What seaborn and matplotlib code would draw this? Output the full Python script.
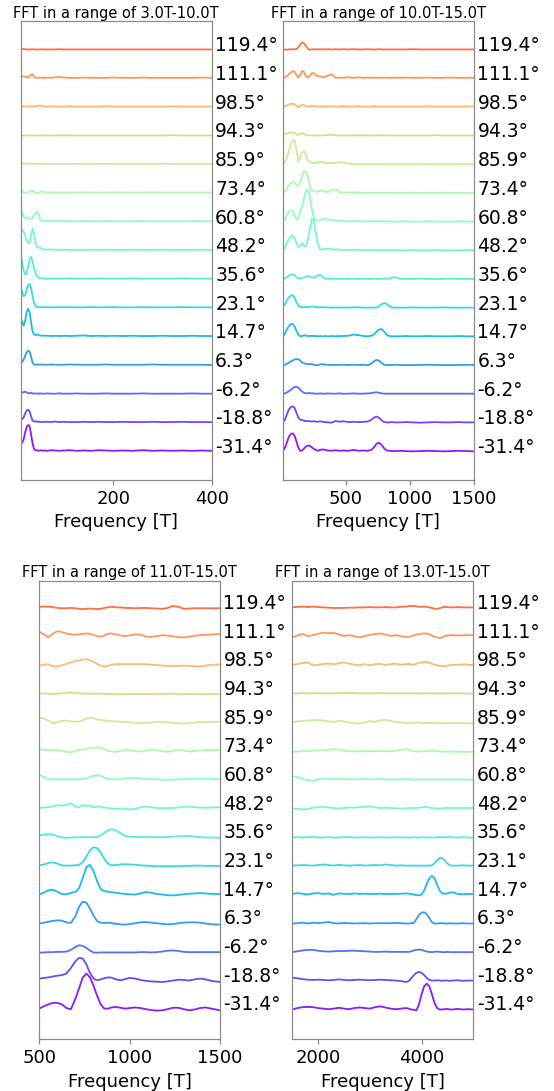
import numpy as np
import matplotlib
matplotlib.use("Agg")
import matplotlib.pyplot as plt
import seaborn as sns

# ---------------- data ----------------
ANGLES = [-31.4, -18.8, -6.2, 6.3, 14.7, 23.1, 35.6, 48.2, 60.8, 73.4, 85.9, 94.3, 98.5, 111.1, 119.4]
RANGES = ["3.0T-10.0T", "10.0T-15.0T", "11.0T-15.0T", "13.0T-15.0T"]
XTICKS_A = [200, 400]
XTICKS_B = [500, 1000, 1500]
XTICKS_C = [500, 1000, 1500]
XTICKS_D = [2000, 4000]

# frequency grids (T)
FREQ_A = [12, 15, 18, 21, 24, 27, 30, 33, 36, 39, 42, 45, 48, 51, 54, 57, 60,
          66, 74, 82, 90, 100, 112, 125, 140, 155, 170, 185, 200,
          220, 240, 260, 280, 300, 320, 340, 360, 380, 400]
FREQ_B = [8, 25, 40, 55, 70, 85, 100, 115, 130, 145, 160, 175, 190, 205, 220, 235, 250, 265, 280,
          300, 320, 340, 360, 390, 420, 450, 480,
          520, 560, 600, 640, 670, 700, 720, 740, 760, 780, 800, 820, 840, 860, 880,
          920, 970, 1020, 1080, 1140, 1200, 1260, 1320, 1380, 1440, 1500]
FREQ_C = [500, 525, 550, 575, 600, 625, 650, 675, 700,
          720, 740, 760, 780, 800, 820, 840, 860, 880, 900,
          925, 950, 975, 1000,
          1030, 1060, 1090, 1120, 1150, 1180, 1210, 1240, 1270, 1300, 1330, 1360, 1390, 1420, 1460, 1500]
FREQ_D = [1500, 1600, 1700, 1800, 1900, 2000, 2100, 2200, 2300, 2400, 2500, 2600, 2700, 2800, 2900,
          3000, 3100, 3200, 3300, 3400, 3500, 3600, 3700,
          3750, 3800, 3850, 3900, 3950, 4000, 4050, 4100, 4150, 4200, 4250, 4300, 4350, 4400, 4450, 4500, 4550, 4600,
          4700, 4800, 4900, 5000]

# ---- panel A: 3.0T-10.0T ----
p1_m314 = [.34,.30,.42,.66,.85,.92,.88,.60,.28,.09,.03,.04,.02,.03,.04,.02,.03,
           .02,.04,.03,.02,.03,.04,.02,.03,.02,.04,.03,.02,
           .03,.02,.04,.02,.03,.02,.03,.02,.03,.02]
p1_m188 = [.21,.13,.18,.32,.42,.45,.40,.22,.07,.04,.05,.03,.04,.02,.03,.02,.03,
           .03,.02,.04,.02,.03,.02,.02,.03,.02,.03,.02,.02,
           .03,.02,.02,.03,.02,.02,.03,.02,.02,.02]
p1_m062 = [.06,.05,.06,.08,.06,.03,.02,.05,.02,.01,.02,.01,.02,.01,.02,.01,.01,
           .02,.01,.01,.02,.01,.01,.02,.01,.01,.01,.02,.01,
           .01,.01,.02,.01,.01,.01,.01,.02,.01,.01]
p1_p063 = [.10,.12,.20,.33,.45,.51,.48,.30,.10,.03,.02,.03,.02,.02,.03,.02,.02,
           .02,.03,.02,.02,.02,.03,.02,.02,.02,.02,.03,.02,
           .02,.02,.02,.03,.02,.02,.02,.02,.02,.01]
p1_p147 = [.65,.50,.38,.55,.85,.97,.85,.50,.18,.07,.05,.08,.06,.04,.03,.04,.03,
           .03,.02,.03,.02,.03,.02,.03,.04,.02,.03,.02,.03,
           .02,.03,.02,.02,.03,.02,.02,.03,.02,.02]
p1_p231 = [.73,.55,.41,.45,.65,.80,.83,.70,.42,.18,.07,.03,.03,.02,.03,.02,.02,
           .03,.02,.02,.03,.02,.03,.02,.02,.03,.02,.02,.03,
           .02,.02,.03,.02,.02,.02,.03,.02,.02,.02]
p1_p356 = [.84,.60,.30,.16,.20,.45,.70,.78,.62,.40,.22,.12,.06,.04,.03,.02,.03,
           .02,.02,.03,.02,.02,.03,.02,.02,.02,.03,.02,.02,
           .02,.03,.02,.02,.02,.02,.03,.02,.02,.02]
p1_p482 = [.77,.74,.65,.52,.38,.26,.26,.55,.76,.60,.25,.14,.10,.10,.07,.05,.04,
           .03,.04,.03,.02,.03,.02,.03,.02,.03,.02,.03,.02,
           .02,.03,.02,.02,.03,.02,.02,.02,.03,.02]
p1_p608 = [.49,.32,.18,.14,.13,.12,.11,.11,.14,.22,.31,.35,.30,.10,.03,.04,.05,
           .03,.02,.03,.02,.03,.02,.02,.03,.02,.02,.03,.02,
           .02,.02,.03,.02,.02,.02,.02,.03,.02,.02]
p1_p734 = [.15,.10,.04,.01,.02,.03,.05,.08,.09,.05,.01,.00,.01,.03,.05,.06,.04,
           .02,.03,.02,.02,.03,.02,.02,.03,.02,.02,.02,.03,
           .02,.02,.02,.03,.02,.02,.02,.02,.02,.02]
p1_p859 = [.08,.05,.03,.04,.02,.04,.03,.02,.03,.02,.03,.02,.02,.03,.02,.02,.03,
           .02,.02,.03,.02,.02,.02,.03,.02,.02,.02,.03,.02,
           .02,.02,.02,.02,.03,.02,.02,.02,.02,.02]
p1_p943 = [.02,.01,.01,.01,.01,.01,.02,.01,.01,.01,.01,.01,.01,.01,.02,.01,.01,
           .01,.01,.01,.01,.02,.01,.01,.01,.01,.01,.01,.01,
           .01,.01,.01,.01,.01,.02,.01,.01,.01,.01]
p1_p985 = [.03,.02,.02,.03,.02,.02,.03,.02,.02,.03,.03,.04,.05,.06,.05,.03,.02,
           .02,.03,.02,.02,.02,.03,.02,.02,.02,.02,.03,.02,
           .02,.02,.02,.02,.02,.03,.02,.02,.02,.02]
p1_p1111 = [.09,.08,.07,.06,.05,.02,.07,.13,.15,.06,.02,.03,.02,.02,.03,.02,.02,
            .03,.02,.04,.05,.03,.02,.02,.03,.02,.02,.02,.03,
            .02,.02,.03,.02,.02,.02,.02,.02,.03,.02]
p1_p1194 = [.04,.03,.02,.02,.01,.01,.01,.01,.02,.01,.01,.01,.01,.01,.01,.02,.01,
            .01,.01,.01,.02,.01,.01,.01,.01,.01,.01,.01,.01,
            .01,.01,.01,.01,.01,.01,.01,.01,.01,.01]

# ---- panel B: 10.0T-15.0T ----
p2_m314 = [.00,.12,.30,.50,.60,.63,.55,.35,.12,.02,.03,.10,.17,.20,.19,.14,.09,.05,.02,
           .05,.07,.05,.03,.02,.04,.02,.03,
           .02,.05,.02,.03,.02,.05,.14,.27,.30,.22,.10,.03,.02,.01,.01,
           .02,.01,.00,.01,.02,.01,.00,.01,.02,.01,.00]
p2_m188 = [.00,.10,.28,.45,.54,.57,.52,.35,.18,.10,.09,.07,.05,.06,.05,.04,.05,.04,.03,
           .05,.03,.02,.01,.00,.06,.03,.05,
           .02,.03,.02,.03,.04,.10,.18,.21,.17,.08,.02,.01,.01,.02,.01,
           .01,.02,.01,.00,.01,.02,.01,.01,.02,.01,.01]
p2_m062 = [.00,.02,.05,.09,.14,.20,.24,.25,.22,.15,.08,.04,.02,.03,.03,.02,.02,.01,.01,
           .02,.01,.01,.02,.01,.01,.02,.01,
           .01,.02,.01,.01,.02,.03,.05,.06,.04,.02,.01,.01,.01,.01,.01,
           .01,.01,.01,.01,.01,.01,.01,.01,.01,.01,.01]
p2_p063 = [.00,.02,.05,.09,.13,.17,.20,.22,.21,.16,.10,.07,.05,.05,.04,.04,.02,.01,.00,
           .03,.04,.02,.02,.01,.02,.01,.02,
           .01,.02,.01,.02,.00,.06,.14,.19,.16,.08,.02,.01,.01,.01,.02,
           .01,.01,.01,.01,.02,.01,.01,.01,.01,.02,.01]
p2_p147 = [.00,.10,.24,.36,.43,.44,.36,.20,.07,.01,.02,.05,.03,.02,.02,.03,.02,.02,.01,
           .02,.01,.02,.01,.02,.01,.02,.02,
           .03,.07,.05,.02,.01,.03,.08,.17,.25,.26,.17,.06,.02,.01,.01,
           .01,.02,.01,.01,.02,.01,.01,.01,.02,.01,.01]
p2_p231 = [.03,.12,.25,.36,.43,.44,.36,.20,.08,.03,.02,.03,.02,.03,.04,.05,.05,.03,.02,
           .02,.03,.02,.02,.01,.02,.01,.02,
           .01,.02,.02,.01,.01,.01,.01,.02,.06,.13,.17,.14,.06,.02,.01,
           .01,.01,.02,.01,.01,.01,.02,.01,.01,.01,.01]
p2_p356 = [.00,.03,.07,.12,.15,.17,.15,.07,.03,.04,.05,.06,.08,.10,.10,.07,.05,.08,.13,
           .16,.08,.01,.02,.01,.02,.01,.02,
           .01,.02,.01,.02,.01,.01,.02,.01,.01,.02,.01,.02,.03,.06,.08,
           .02,.01,.01,.02,.01,.01,.01,.02,.01,.01,.01]
p2_p482 = [.00,.10,.25,.40,.48,.52,.45,.25,.12,.18,.25,.15,.14,.40,.75,1.10,1.08,.65,.25,
           .03,.04,.05,.07,.05,.03,.04,.02,
           .02,.03,.02,.01,.02,.02,.01,.02,.01,.02,.01,.02,.01,.01,.02,
           .01,.01,.02,.01,.01,.02,.01,.01,.01,.02,.01]
p2_p608 = [.00,.10,.22,.35,.41,.38,.22,.09,.12,.35,.55,.85,1.08,1.14,.85,.45,.15,.05,.05,
           .06,.10,.12,.07,.08,.04,.05,.02,
           .02,.03,.02,.02,.01,.02,.01,.02,.01,.02,.01,.01,.02,.01,.01,
           .01,.02,.01,.01,.02,.01,.01,.01,.02,.01,.01]
p2_p734 = [.00,.06,.15,.26,.34,.38,.37,.28,.25,.38,.60,.77,.75,.55,.28,.10,.06,.05,.06,
           .08,.09,.05,.04,.12,.13,.04,.02,
           .02,.03,.02,.01,.02,.01,.02,.01,.02,.01,.02,.01,.01,.02,.01,
           .01,.01,.02,.01,.01,.01,.02,.01,.01,.01,.01]
p2_p859 = [.02,.08,.22,.45,.70,.84,.85,.55,.10,.25,.44,.45,.32,.15,.08,.06,.06,.05,.06,
           .08,.10,.06,.05,.06,.05,.08,.07,
           .03,.02,.01,.02,.01,.02,.01,.01,.02,.01,.01,.02,.01,.01,.01,
           .01,.01,.01,.02,.01,.01,.01,.01,.01,.01,.01]
p2_p943 = [.05,.06,.08,.10,.11,.12,.10,.05,.03,.07,.10,.07,.02,.01,.02,.01,.02,.01,.01,
           .02,.01,.02,.03,.04,.02,.01,.02,
           .01,.02,.01,.01,.02,.01,.01,.02,.01,.01,.01,.02,.01,.01,.01,
           .01,.01,.01,.01,.01,.02,.01,.01,.01,.01,.01]
p2_p985 = [.00,.03,.06,.09,.11,.12,.10,.05,.00,.03,.08,.07,.03,.02,.03,.05,.04,.02,.03,
           .02,.03,.02,.02,.03,.02,.02,.03,
           .02,.02,.03,.02,.02,.02,.03,.02,.02,.02,.02,.02,.02,.02,.02,
           .02,.02,.02,.02,.03,.02,.02,.02,.02,.02,.02]
p2_p1111 = [.00,.04,.08,.14,.20,.25,.25,.12,.03,.12,.27,.22,.06,.03,.10,.18,.19,.12,.08,
            .07,.04,.06,.10,.14,.02,.03,.02,
            .04,.02,.04,.02,.03,.02,.03,.02,.03,.02,.02,.03,.02,.02,.03,
            .02,.03,.02,.02,.03,.02,.02,.03,.02,.02,.02]
p2_p1194 = [.00,.01,.00,.01,.02,.01,.02,.02,.08,.18,.26,.22,.12,.04,.00,.01,.02,.01,.02,
            .01,.02,.01,.02,.01,.02,.01,.02,
            .01,.02,.01,.01,.02,.01,.01,.01,.02,.01,.01,.01,.01,.01,.01,
            .01,.01,.02,.01,.01,.01,.01,.01,.01,.01,.01]

# ---- panel C: 11.0T-15.0T ----
p3_m314 = [.00,.08,.15,.20,.20,.15,.02,-.02,.35,
           .70,1.08,1.22,1.10,.80,.45,.15,.00,.00,.04,
           .06,.03,.00,.02,
           .04,.02,-.02,-.05,-.07,-.06,-.02,.03,.03,-.02,-.06,-.03,.02,.04,-.01,-.06]
p3_m188 = [.05,.07,.09,.12,.15,.17,.22,.42,.65,
           .77,.75,.55,.25,.05,-.01,.02,.06,.09,.08,
           .02,-.01,.03,.07,
           .05,.00,-.03,-.05,-.06,-.07,-.05,-.02,.01,.00,-.02,.02,.05,.02,-.04,-.07]
p3_m062 = [-.05,-.04,-.03,-.03,-.02,-.02,-.01,.05,.15,
           .21,.19,.12,.03,-.04,-.05,-.04,-.04,-.04,-.04,
           -.04,-.04,-.04,-.04,
           -.04,-.03,-.03,-.04,-.03,-.01,.02,.03,.01,-.02,-.03,-.03,-.03,-.03,-.03,-.03]
p3_p063 = [-.03,.00,.03,.06,.08,.07,.01,-.01,.22,
           .55,.73,.70,.50,.25,.05,.00,-.01,.00,-.02,
           -.04,-.06,-.07,-.05,
           -.02,.01,.02,.00,-.02,-.04,-.06,-.05,-.02,.00,.01,.01,.00,-.03,-.06,-.07]
p3_p147 = [-.02,.05,.13,.15,.08,.00,-.01,.04,.07,
           .20,.55,.93,1.02,.80,.45,.17,.10,.08,.06,
           .04,.02,.00,-.01,
           -.02,.02,.07,.04,.00,-.02,-.04,-.05,-.03,-.01,.01,.02,.03,.02,.00,.00]
p3_p231 = [.00,.03,.08,.10,.06,.00,-.01,-.01,.00,
           .02,.10,.30,.52,.63,.60,.45,.22,.06,.00,
           .01,.03,.04,.03,
           .02,.00,-.01,-.02,-.03,-.03,-.03,-.03,-.03,-.02,-.02,-.01,-.01,-.02,-.02,-.02]
p3_p356 = [.05,.07,.09,.07,.02,-.03,-.04,-.03,-.02,
           -.02,-.02,-.02,-.02,-.01,-.01,.04,.13,.22,.26,
           .22,.12,.03,.00,
           -.01,-.01,-.01,-.02,-.02,-.02,-.01,.00,.01,.02,.03,.00,-.02,-.03,-.03,-.04]
p3_p482 = [.00,.02,.03,.06,.10,.08,.12,.16,.06,
           .02,.10,.08,.09,.02,.05,.05,.02,.00,-.02,
           -.03,-.02,-.03,-.05,
           -.03,.02,.05,.03,.00,-.01,.00,.00,.02,.04,.05,.03,.01,.01,.02,.03]
p3_p608 = [.17,.08,.01,.00,.00,.00,.00,.00,.00,
           .00,.01,.03,.08,.13,.15,.12,.06,.02,.00,
           .00,.02,.03,.04,
           .04,.03,.02,.01,.00,-.01,-.02,-.01,.00,.00,.01,.02,.02,.02,.02,.02]
p3_p734 = [.05,.03,.02,.02,.02,.00,-.04,-.05,-.01,
           .03,.04,.06,.08,.10,.11,.10,.05,.00,-.03,
           -.04,-.01,.03,.01,
           -.02,-.03,.00,.04,.01,-.02,-.04,.00,.04,.00,-.03,-.01,.01,.02,.02,.02]
p3_p859 = [.16,.12,.05,-.04,-.01,.04,.05,.02,.01,
           .02,.06,.12,.16,.13,.09,.07,.06,.04,.03,
           .02,.01,.01,-.01,
           -.02,-.04,-.04,-.02,.01,.01,-.01,-.03,-.04,-.05,-.04,-.02,.00,.00,.01,.01]
p3_p943 = [-.01,.00,-.02,-.02,-.01,.00,.02,.03,.02,
           .00,-.01,-.01,-.01,-.01,-.01,-.01,-.02,-.02,-.02,
           -.02,-.03,-.03,-.02,
           -.02,-.02,-.02,-.02,-.02,-.01,-.02,-.01,-.02,-.02,-.02,-.03,-.02,-.02,-.02,-.02]
p3_p985 = [-.03,.00,.01,-.05,-.06,-.02,.03,.08,.12,
           .15,.18,.19,.16,.10,.03,-.03,-.07,-.04,.00,
           .02,.02,.02,.02,
           .02,.02,.02,.00,-.01,-.03,-.05,-.04,-.04,-.03,-.04,-.05,-.06,-.03,.00,.01]
p3_p1111 = [.15,.06,-.04,.08,.17,.14,.09,.06,.05,
            .06,.08,.09,.08,.04,.00,-.02,.02,.08,.09,
            .06,.02,.00,.02,
            .06,.05,-.02,-.03,.00,.03,.02,-.01,-.04,-.05,-.02,.01,.03,.04,.06,.07]
p3_p1194 = [.02,.03,.03,.01,-.02,-.03,-.03,-.02,-.03,
            -.05,-.06,-.05,-.04,-.05,-.06,-.05,-.02,.00,.02,
            .00,.00,-.02,-.02,
            -.03,-.02,-.02,-.03,-.04,-.05,-.02,.05,.02,-.05,-.04,-.03,-.03,-.03,-.03,-.03]

# ---- panel D: 13.0T-15.0T ----
p4_m314 = [-.03,.02,.05,.06,.05,.02,.00,-.02,.00,.03,.00,-.02,.02,.04,.02,.00,.05,.08,.04,.00,-.02,.00,.02,
           .00,-.03,-.04,-.06,.15,.50,.78,.87,.78,.50,.20,.02,-.03,-.03,-.02,-.01,-.03,-.03,
           -.01,-.03,-.02,-.03]
p4_m188 = [.08,.06,.03,.01,.00,.01,.00,-.01,.00,.02,.00,-.01,.00,.01,.00,-.01,.00,.01,.00,-.01,-.02,-.04,-.07,
           -.04,.06,.16,.25,.28,.25,.17,.07,.00,-.02,-.02,-.01,-.02,-.03,-.02,-.02,-.03,-.02,
           -.01,-.03,-.02,-.02]
p4_m062 = [-.03,.00,.03,.05,.05,.02,.00,-.01,.00,.01,.01,.02,.02,.01,.00,-.01,-.02,-.02,-.01,-.02,-.02,-.02,-.02,
           -.02,.00,.03,.05,.06,.05,.02,-.01,-.02,-.03,-.02,-.01,-.02,-.03,-.03,-.02,-.03,-.03,
           -.03,-.03,-.03,-.03]
p4_p063 = [-.03,-.02,.00,-.03,.00,-.02,.00,.02,-.02,-.03,-.01,-.02,-.03,-.02,-.02,-.03,-.02,-.02,-.02,-.02,-.01,-.02,-.03,
           -.03,-.02,-.01,.12,.27,.35,.36,.30,.15,.02,-.03,-.03,-.02,-.02,-.03,-.03,-.02,-.03,
           -.03,-.02,-.03,-.03]
p4_p147 = [.00,.03,.01,-.02,.02,.03,.00,.02,-.03,.02,.01,-.01,.02,.00,.01,.00,.00,.01,.00,.00,.00,.01,.02,
           .01,.00,-.02,-.04,-.05,-.02,.12,.35,.55,.63,.55,.33,.12,.02,.01,.02,.05,.06,
           .00,-.01,.00,.00]
p4_p231 = [-.01,.00,.01,.00,-.01,.01,.03,.01,-.01,.02,.00,-.01,.00,.01,-.01,.00,.01,.00,.03,.01,-.01,.00,-.01,
           -.01,-.01,-.01,-.01,-.01,-.01,-.01,-.01,-.01,.00,.07,.18,.26,.25,.17,.06,.00,-.01,
           -.01,.00,-.01,-.01]
p4_p356 = [-.03,-.02,-.03,-.02,-.01,-.03,-.03,-.02,-.03,-.03,-.02,-.01,-.03,-.03,-.02,-.03,-.03,-.02,-.03,-.03,-.02,-.03,-.02,
           -.03,-.03,-.02,-.03,-.03,-.02,-.03,-.03,-.02,-.03,-.03,-.02,-.01,-.03,-.02,-.01,.00,-.02,
           -.03,-.02,-.03,-.03]
p4_p482 = [-.02,-.03,-.05,-.03,.01,.03,.04,.02,.00,-.02,.00,.02,.01,.03,.05,.06,.03,.00,.01,.00,-.01,-.02,-.01,
           .00,.00,.01,.00,.01,.02,.03,.04,.02,.00,-.01,-.02,-.02,-.01,.00,.00,.00,.00,
           .00,.00,.00,.00]
p4_p608 = [.11,.08,.02,-.03,-.05,.00,.03,.02,.01,.01,.00,.01,.00,.00,.01,.00,.00,.01,.00,-.01,.00,.00,.01,
           .00,.00,-.01,-.01,.00,.00,.00,.00,-.01,-.01,.00,.00,.00,.00,.00,.00,-.01,-.01,
           .00,.00,-.01,-.01]
p4_p734 = [-.04,-.03,-.01,-.02,.00,.01,.01,.03,.05,.04,.00,-.02,-.03,-.01,-.02,-.02,-.02,-.01,-.02,-.02,.00,.03,.05,
           .03,.00,-.02,-.03,-.03,-.02,-.02,-.01,-.01,.00,-.01,-.02,-.03,-.03,-.03,-.03,-.03,-.03,
           -.04,-.04,-.04,-.04]
p4_p859 = [.00,.02,.04,.05,.06,.07,.05,.02,.00,.04,.02,-.02,-.04,-.05,-.02,.03,.00,.06,.07,.04,.00,-.02,-.03,
           -.03,-.02,-.02,-.02,-.02,-.03,-.03,-.03,-.03,-.03,-.03,-.04,-.04,-.04,-.04,-.04,-.04,-.04,
           -.04,-.04,-.04,-.04]
p4_p943 = [.00,.00,.01,.00,.00,.01,.00,.00,.00,.01,.01,.02,.01,.00,.00,.00,.00,.01,.00,.00,.00,.00,.00,
           .00,.00,.00,.00,.00,-.01,.00,.00,.00,.00,-.01,.00,.00,.00,-.01,.00,.00,.00,
           .00,.00,-.01,-.01]
p4_p985 = [-.01,.02,.06,.08,-.02,.00,.03,.04,.02,.05,.08,.04,.00,-.02,.02,-.02,.02,.03,-.01,.02,.04,.00,.02,
           .03,.01,.00,.03,.06,.08,.10,.10,.07,.03,.00,-.02,-.04,-.05,-.05,-.03,-.02,-.01,
           .00,.01,.00,-.01]
p4_p1111 = [-.05,.02,.07,.00,.03,.08,.12,.10,.11,.06,.00,.03,.00,-.05,.00,.04,.07,.09,.05,.00,.03,.00,-.04,
            -.03,.00,.03,.05,.07,.08,.09,.09,.06,.02,-.02,-.05,-.07,-.04,.00,.02,.03,.03,
            .02,.03,.03,.03]
p4_p1194 = [.00,.02,.03,.01,.03,.01,.00,-.01,-.02,-.02,-.02,-.01,-.01,.00,.00,.01,.00,.00,.01,.00,.00,.02,.03,
            .04,.05,.05,.04,.02,.02,.03,.02,.00,-.02,-.04,-.05,-.03,.00,.02,.01,.00,.00,
            .01,.00,.00,.00]

TRACES_A = [p1_m314, p1_m188, p1_m062, p1_p063, p1_p147, p1_p231, p1_p356, p1_p482,
            p1_p608, p1_p734, p1_p859, p1_p943, p1_p985, p1_p1111, p1_p1194]
TRACES_B = [p2_m314, p2_m188, p2_m062, p2_p063, p2_p147, p2_p231, p2_p356, p2_p482,
            p2_p608, p2_p734, p2_p859, p2_p943, p2_p985, p2_p1111, p2_p1194]
TRACES_C = [p3_m314, p3_m188, p3_m062, p3_p063, p3_p147, p3_p231, p3_p356, p3_p482,
            p3_p608, p3_p734, p3_p859, p3_p943, p3_p985, p3_p1111, p3_p1194]
TRACES_D = [p4_m314, p4_m188, p4_m062, p4_p063, p4_p147, p4_p231, p4_p356, p4_p482,
            p4_p608, p4_p734, p4_p859, p4_p943, p4_p985, p4_p1111, p4_p1194]

# ---------------- style / layout ----------------
sns.set_style("ticks")
plt.rcParams["font.family"] = ["DejaVu Sans"]
plt.rcParams.update({"text.color": "black", "axes.labelcolor": "black",
                     "xtick.labelcolor": "black", "ytick.labelcolor": "black"})

SPINE = "#8c8c8c"
colors = plt.get_cmap("rainbow")(np.arange(len(ANGLES)) / (len(ANGLES) + 1))

fig = plt.figure(figsize=(5.54, 10.91), dpi=100)
panels = [
    (FREQ_A, TRACES_A, RANGES[0], (12, 400), XTICKS_A, (-1.0, 15.0), [0.0374, 0.5600, 0.3448, 0.4207]),
    (FREQ_B, TRACES_B, RANGES[1], (8, 1500), XTICKS_B, (-1.0, 15.0), [0.5103, 0.5600, 0.3453, 0.4207]),
    (FREQ_C, TRACES_C, RANGES[2], (500, 1500), XTICKS_C, (-1.07, 14.93), [0.0709, 0.0474, 0.3262, 0.4203]),
    (FREQ_D, TRACES_D, RANGES[3], (1500, 5000), XTICKS_D, (-1.07, 14.93), [0.5276, 0.0474, 0.3267, 0.4203]),
]

for freq, traces, rng, xlim, xticks, ylim, rect in panels:
    ax = fig.add_axes(rect)
    for i, (ang, amp) in enumerate(zip(ANGLES, traces)):
        assert len(amp) == len(freq)
        sns.lineplot(x=freq, y=np.asarray(amp) + i, ax=ax, color=colors[i],
                     linewidth=1.3, alpha=0.9, estimator=None, sort=False, legend=False)
        ax.annotate(f"{ang}°", xy=(1.0, i), xycoords=ax.get_yaxis_transform(),
                    xytext=(2.5, -1.2), textcoords="offset points", color="black",
                    ha="left", va="baseline", fontsize=13.5, annotation_clip=False)
    ax.set_xlim(*xlim)
    ax.set_ylim(*ylim)
    ax.set_yticks([])
    ax.set_ylabel("")
    ax.set_xticks(xticks)
    ax.set_xlabel("Frequency [T]", fontsize=13, labelpad=4, color="black")
    ax.set_title(f"FFT in a range of {rng}", fontsize=10.5, pad=2.5, color="black")
    ax.tick_params(axis="x", length=3.5, width=0.9, color=SPINE, labelcolor="black",
                   labelsize=13, pad=3.5)
    for s in ax.spines.values():
        s.set_visible(True)
        s.set_color(SPINE)
        s.set_linewidth(0.9)

fig.savefig("out.png", dpi=100)
